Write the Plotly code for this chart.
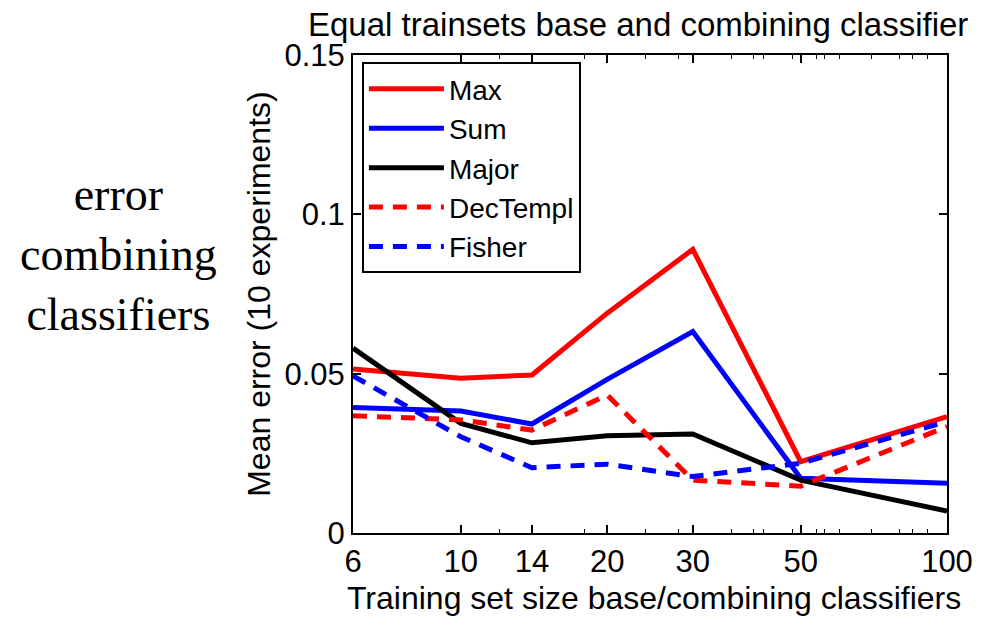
import plotly.graph_objects as go

x_sizes = [6, 10, 14, 20, 30, 50, 100]
max_err = [0.0515, 0.0486, 0.0496, 0.069, 0.089, 0.0224, 0.0365]
sum_err = [0.0394, 0.0383, 0.0342, 0.0482, 0.0632, 0.0172, 0.0156]
major_err = [0.058, 0.0344, 0.0283, 0.0305, 0.0311, 0.0166, 0.0069]
dectempl_err = [0.0368, 0.0355, 0.0323, 0.0433, 0.0166, 0.0147, 0.0334]
fisher_err = [0.0493, 0.0302, 0.0205, 0.0216, 0.0177, 0.0219, 0.035]

x_ticks = [6, 10, 14, 20, 30, 50, 100]
x_minor = [12, 18, 24, 28, 36, 40, 42, 48, 54, 56, 60, 70, 80, 85, 91]
y_ticks = [0, 0.05, 0.1, 0.15]
y_ticklabels = ["0", "0.05", "0.1", "0.15"]

series = [
    ("Max", max_err, "#ff0000", "solid"),
    ("Sum", sum_err, "#0000ff", "solid"),
    ("Major", major_err, "#000000", "solid"),
    ("DecTempl", dectempl_err, "#ff0000", "14px,10px"),
    ("Fisher", fisher_err, "#0000ff", "14px,10px"),
]

fig = go.Figure()
for name, vals, color, dash in series:
    fig.add_trace(go.Scatter(x=x_sizes, y=vals, mode="lines", name=name,
                             line=dict(color=color, width=5, dash=dash)))

font_main = "Liberation Sans, Arial, sans-serif"
axis_common = dict(showline=True, linecolor="black", linewidth=2, mirror="ticks",
                   ticks="inside", ticklen=8, tickwidth=1.5, tickcolor="black",
                   showgrid=False, zeroline=False,
                   tickfont=dict(family=font_main, size=31, color="black"))

fig.update_layout(
    width=985, height=617,
    margin=dict(l=353, r=33, t=55, b=84),
    paper_bgcolor="white", plot_bgcolor="white",
    font=dict(family=font_main, color="black"),
    xaxis=dict(type="log", range=[0.77815, 2.0], tickmode="array",
               tickvals=x_ticks, ticktext=[str(v) for v in x_ticks],
               minor=dict(tickmode="array", tickvals=x_minor, ticks="inside",
                          ticklen=4, tickwidth=1.2, tickcolor="black"),
               **axis_common),
    yaxis=dict(range=[0, 0.15], tickmode="array", tickvals=y_ticks,
               ticktext=y_ticklabels, **axis_common),
    showlegend=True,
    legend=dict(x=0.015, y=0.985, xanchor="left", yanchor="top",
                bgcolor="white", bordercolor="black", borderwidth=2,
                font=dict(family=font_main, size=28, color="black"),
                tracegroupgap=0, itemwidth=75),
    annotations=[
        dict(text="Equal trainsets base and combining classifier", xref="paper", yref="paper",
             x=0.48, y=1.0, yshift=31, xanchor="center", yanchor="middle", showarrow=False,
             font=dict(family=font_main, size=33, color="black")),
        dict(text="Training set size base/combining classifiers", xref="paper", yref="paper",
             x=0.507, y=-0.136, xanchor="center", yanchor="middle", showarrow=False,
             font=dict(family=font_main, size=32, color="black")),
        dict(text="Mean error (10 experiments)", xref="paper", yref="paper",
             x=-0.1586, y=0.5, xanchor="center", yanchor="middle", showarrow=False,
             textangle=-90, font=dict(family=font_main, size=32, color="black")),
        dict(text="error<br>combining<br>classifiers", xref="paper", yref="paper",
             x=-0.394, y=0.582, xanchor="center", yanchor="middle", showarrow=False,
             align="center",
             font=dict(family="Liberation Serif, Times New Roman, serif", size=46, color="black")),
    ],
)

fig.write_html("out.html")
